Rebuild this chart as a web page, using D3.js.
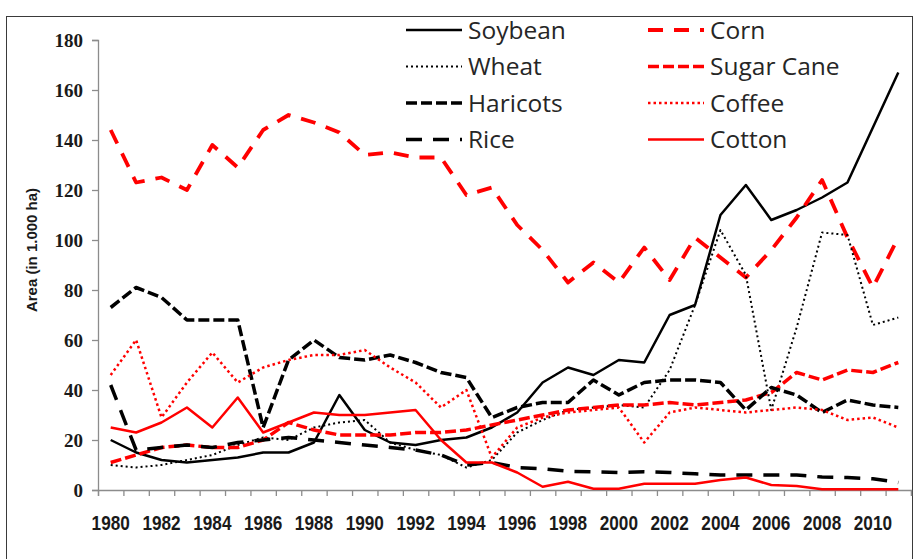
<!DOCTYPE html>
<html>
<head>
<meta charset="utf-8">
<script src="https://cdn.jsdelivr.net/npm/d3@7"></script>
<style>
  body { margin: 0; background: #fff; }
  svg { display: block; }
</style>
</head>
<body>
<div id="chart"></div>
<script>
// años (categorías)
const years = [1980, 1981, 1982, 1983, 1984, 1985, 1986, 1987, 1988, 1989,
               1990, 1991, 1992, 1993, 1994, 1995, 1996, 1997, 1998, 1999,
               2000, 2001, 2002, 2003, 2004, 2005, 2006, 2007, 2008, 2009,
               2010, 2011];
const yearLabels = [1980, 1982, 1984, 1986, 1988, 1990, 1992, 1994, 1996, 1998,
                    2000, 2002, 2004, 2006, 2008, 2010];
const yTicks = [0, 20, 40, 60, 80, 100, 120, 140, 160, 180];

// área en 1.000 ha
const soybean   = [20, 15, 12, 11, 12, 13, 15, 15, 19, 38, 24, 19, 18, 20, 21, 25, 31, 43, 49, 46, 52, 51, 70, 74, 110, 122, 108, 112, 117, 123, 145, 167];
const corn      = [144, 123, 125, 120, 138, 129, 144, 150, 147, 143, 134, 135, 133, 133, 118, 121, 106, 96, 83, 91, 83, 97, 84, 101, 93, 85, 96, 109, 124, 101, 81, 101];
const wheat     = [10, 9, 10, 12, 14, 18, 21, 20, 25, 27, 28, 19, 16, 14, 9, 12, 23, 28, 32, 33, 34, 33, 48, 74, 104, 86, 32, 65, 103, 102, 66, 69];
const sugarCane = [11, 14, 17, 18, 17, 17, 20, 27, 24, 22, 22, 22, 23, 23, 24, 26, 28, 30, 32, 33, 34, 34, 35, 34, 35, 36, 39, 47, 44, 48, 47, 51];
const haricots  = [73, 81, 77, 68, 68, 68, 25, 52, 60, 53, 52, 54, 51, 47, 45, 29, 33, 35, 35, 44, 38, 43, 44, 44, 43, 32, 41, 38, 31, 36, 34, 33];
const coffee    = [46, 60, 29, 43, 55, 43, 49, 52, 54, 54, 56, 49, 43, 33, 40, 13, 25, 29, 31, 32, 33, 19, 31, 33, 32, 31, 32, 33, 32, 28, 29, 25];
const rice      = [42, 16, 17, 18, 17, 19, 20, 21, 20, 19, 18, 17, 16, 14, 10, 11, 9, 8.5, 7.5, 7.3, 7, 7.3, 7, 6.5, 6, 6, 6, 6, 5.2, 5, 4.5, 3];
const cotton    = [25, 23, 27, 33, 25, 37, 23, 27, 31, 30, 30, 31, 32, 20, 11, 11, 7, 1.3, 3.3, 0.5, 0.5, 2.5, 2.5, 2.5, 4, 5, 2, 1.6, 0.3, 0.3, 0.3, 0.3];

const RED = '#ff0000';
const series = [
  { name: 'Soybean',    values: soybean,   color: '#000', width: 2.5, dash: null },
  { name: 'Corn',       values: corn,      color: RED,    width: 3.8, dash: '15,11' },
  { name: 'Wheat',      values: wheat,     color: '#000', width: 2,   dash: '2,3' },
  { name: 'Sugar Cane', values: sugarCane, color: RED,    width: 3.5, dash: '11,4' },
  { name: 'Haricots',   values: haricots,  color: '#000', width: 3.5, dash: '11,4' },
  { name: 'Coffee',     values: coffee,    color: RED,    width: 2.5, dash: '2.5,3' },
  { name: 'Rice',       values: rice,      color: '#000', width: 3.5, dash: '16,11' },
  { name: 'Cotton',     values: cotton,    color: RED,    width: 2.5, dash: null }
];

const width = 921, height = 559;
const plot = { left: 98, right: 911, top: 40, bottom: 490 };

const svg = d3.select('#chart').append('svg')
  .attr('width', width)
  .attr('height', height);

// marco del gráfico
svg.append('rect')
  .attr('x', 6.5).attr('y', 16.5)
  .attr('width', 906).attr('height', 545)
  .attr('fill', '#fff')
  .attr('stroke', '#3a3a3a')
  .attr('stroke-width', 1);

// escalas
const x = d3.scaleLinear()
  .domain([years[0] - 0.5, years[years.length - 1] + 0.5])
  .range([plot.left, plot.right]);

const y = d3.scaleLinear()
  .domain([0, 180])
  .range([plot.bottom, plot.top]);

// eje Y
const yAxis = svg.append('g')
  .attr('transform', `translate(${plot.left},0)`)
  .call(d3.axisLeft(y).tickValues(yTicks).tickSize(6).tickPadding(9));
yAxis.select('.domain').attr('stroke', '#8c8c8c').attr('stroke-width', 1.3);
yAxis.selectAll('.tick line').attr('stroke', '#8c8c8c').attr('stroke-width', 1.3);
yAxis.selectAll('.tick text')
  .attr('fill', '#1a1a1a')
  .style('font-family', '"Liberation Serif", serif')
  .style('font-weight', 'bold')
  .style('font-size', '19px');

// eje X (marcas entre categorías)
const boundaries = years.map(d => d - 0.5).concat([years[years.length - 1] + 0.5]);
const xAxis = svg.append('g')
  .attr('transform', `translate(0,${plot.bottom})`)
  .call(d3.axisBottom(x).tickValues(boundaries).tickSize(6).tickFormat(''));
xAxis.select('.domain').attr('stroke', '#8c8c8c').attr('stroke-width', 1.3);
xAxis.selectAll('.tick line').attr('stroke', '#8c8c8c').attr('stroke-width', 1.3);

// etiquetas de años (condensadas)
svg.append('g')
  .selectAll('text')
  .data(yearLabels)
  .enter().append('text')
  .attr('transform', d => `translate(${x(d)},530) scale(0.86,1)`)
  .attr('text-anchor', 'middle')
  .attr('fill', '#1a1a1a')
  .style('font-family', '"Liberation Sans", sans-serif')
  .style('font-weight', 'bold')
  .style('font-size', '20px')
  .text(d => d);

// título del eje Y
svg.append('text')
  .attr('transform', 'translate(37,250) rotate(-90)')
  .attr('text-anchor', 'middle')
  .attr('fill', '#1a1a1a')
  .style('font-family', '"Liberation Sans", sans-serif')
  .style('font-weight', 'bold')
  .style('font-size', '15px')
  .text('Area (in 1.000 ha)');

// líneas
const line = d3.line()
  .x((d, i) => x(years[i]))
  .y(d => y(d));

svg.append('g')
  .selectAll('path')
  .data(series)
  .enter().append('path')
  .attr('d', d => line(d.values))
  .attr('fill', 'none')
  .attr('stroke', d => d.color)
  .attr('stroke-width', d => d.width)
  .attr('stroke-dasharray', d => d.dash)
  .attr('stroke-linejoin', 'round');

// leyenda en dos columnas
const legend = svg.append('g')
  .selectAll('g')
  .data(series)
  .enter().append('g')
  .attr('transform', (d, i) => {
    const col = i % 2, row = Math.floor(i / 2);
    return `translate(${col === 0 ? 406 : 648},${30 + row * 36.5})`;
  });

legend.append('line')
  .attr('x1', 0).attr('x2', 56)
  .attr('stroke', d => d.color)
  .attr('stroke-width', d => d.width)
  .attr('stroke-dasharray', d => d.dash);

legend.append('text')
  .attr('x', 62)
  .attr('dy', '0.35em')
  .attr('fill', '#262626')
  .style('font-family', '"Open Sans", sans-serif')
  .style('font-size', '24.5px')
  .text(d => d.name);
</script>
</body>
</html>
